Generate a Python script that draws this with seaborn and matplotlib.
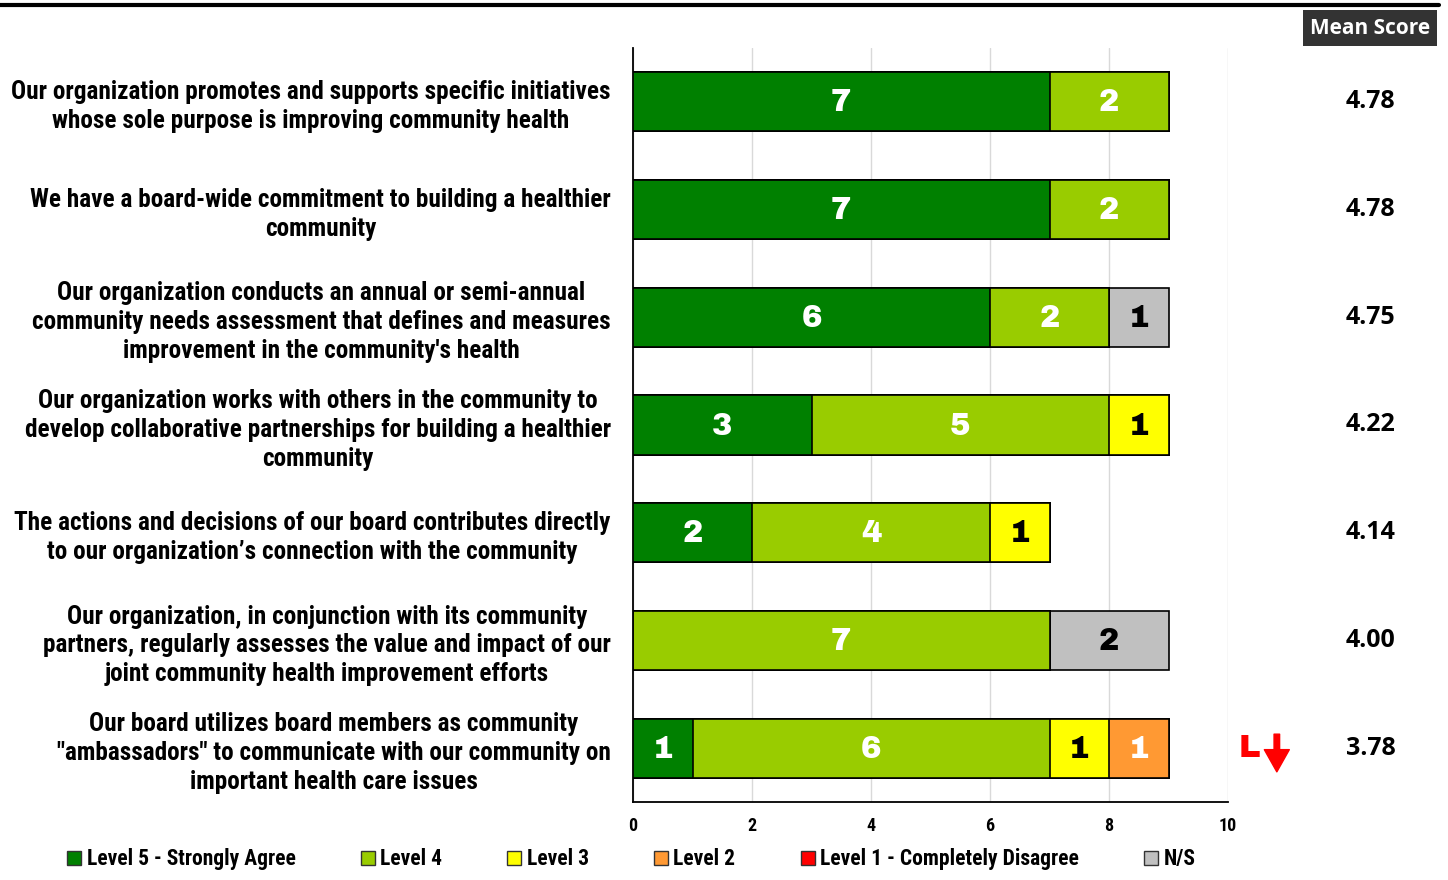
import numpy as np
import pandas as pd
import matplotlib.pyplot as plt
import seaborn as sns
from matplotlib.lines import Line2D
from matplotlib.patches import Patch

questions = [
    "Our organization promotes and supports specific initiatives\nwhose sole purpose is improving community health",
    "We have a board-wide commitment to building a healthier\ncommunity",
    "Our organization conducts an annual or semi-annual\ncommunity needs assessment that defines and measures\nimprovement in the community's health",
    "Our organization works with others in the community to\ndevelop collaborative partnerships for building a healthier\ncommunity",
    "The actions and decisions of our board contributes directly\nto our organization\u2019s connection with the community",
    "Our organization, in conjunction with its community\npartners, regularly assesses the value and impact of our\njoint community health improvement efforts",
    "Our board utilizes board members as community\n\"ambassadors\" to communicate with our community on\nimportant health care issues",
]
levels = ["Level 5 - Strongly Agree", "Level 4", "Level 3", "Level 2",
          "Level 1 - Completely Disagree", "N/S"]
level5 = [7, 7, 6, 3, 2, 0, 1]
level4 = [2, 2, 2, 5, 4, 7, 6]
level3 = [0, 0, 0, 1, 1, 0, 1]
level2 = [0, 0, 0, 0, 0, 0, 1]
level1 = [0, 0, 0, 0, 0, 0, 0]
ns = [0, 0, 1, 0, 0, 2, 0]
mean_scores = ["4.78", "4.78", "4.75", "4.22", "4.14", "4.00", "3.78"]

colors = ["#008000", "#99CC00", "#FFFF00", "#FF9933", "#FF0000", "#C0C0C0"]
text_colors = ["white", "white", "black", "white", "white", "black"]

df = pd.DataFrame({"question": questions})
for name, vals in zip(levels, [level5, level4, level3, level2, level1, ns]):
    df[name] = vals
cum = df[levels].cumsum(axis=1)

sns.set_theme(style="white")
plt.rcParams["text.color"] = "black"
plt.rcParams["xtick.color"] = "black"
plt.rcParams["ytick.color"] = "black"
narrow = ["Roboto Condensed", "DejaVu Sans"]
heavy = ["Archivo Black", "DejaVu Sans"]
ui = ["Open Sans", "DejaVu Sans"]

fig = plt.figure(figsize=(14.48, 8.8), dpi=100)
ax = fig.add_axes([0.4372, 0.0886, 0.4109, 0.8569])

# stacked bars: draw cumulative totals back to front
for k in range(len(levels) - 1, -1, -1):
    sns.barplot(x=cum[levels[k]], y=df["question"], color=colors[k],
                orient="h", width=0.55, edgecolor="black", linewidth=1.2,
                saturation=1, ax=ax, zorder=3)

for i in range(len(df)):
    start = 0
    for k, lev in enumerate(levels):
        v = df.loc[i, lev]
        if v > 0:
            ax.text(start + v / 2, i + 0.01, str(v), ha="center", va="center",
                    fontsize=22, color=text_colors[k], family=heavy, zorder=5)
        start += v
    ax.text(12.4, i, mean_scores[i], ha="center", va="center", fontsize=18,
            fontweight="bold", family=ui, color="black", clip_on=False)

ax.set_xlim(0, 10)
ax.set_ylim(6.5, -0.5)
ax.set_xticks([0, 2, 4, 6, 8, 10])
ax.xaxis.grid(True, color="#D9D9D9", linewidth=1)
ax.set_axisbelow(True)
ax.set_xlabel("")
ax.set_ylabel("")
for s in ["top", "right"]:
    ax.spines[s].set_visible(False)
for s in ["left", "bottom"]:
    ax.spines[s].set_color("black")
    ax.spines[s].set_linewidth(1.3)
ax.tick_params(axis="x", length=0, pad=11)
ax.tick_params(axis="y", length=0, pad=16)
for lbl in ax.get_xticklabels():
    lbl.set_family(narrow)
    lbl.set_fontweight("bold")
    lbl.set_fontsize(13)
for lbl in ax.get_yticklabels():
    lbl.set_family(narrow)
    lbl.set_fontweight("bold")
    lbl.set_fontsize(18.2)
    lbl.set_multialignment("center")
    lbl.set_linespacing(1.25)

# low-score flag
ax.text(10.36, 6.0, "L", ha="center", va="center", fontsize=23,
        color="red", family=heavy, clip_on=False)
ax.annotate("", xy=(10.82, 6.22), xytext=(10.82, 5.87),
            arrowprops=dict(facecolor="red", edgecolor="red", width=4,
                            headwidth=18, headlength=16), annotation_clip=False)

fig.text(1370 / 1448, 1 - 28 / 880, "Mean Score", ha="center", va="center",
         fontsize=15, fontweight="bold", color="white", family=ui,
         bbox=dict(boxstyle="square,pad=0.35", fc="#333333", ec="none"))
fig.add_artist(Line2D([0, 0.994], [0.994, 0.994], color="black", linewidth=3,
                      transform=fig.transFigure))

handles = [Patch(facecolor=c, edgecolor="#333333", linewidth=1) for c in colors]
fig.legend(handles, levels, ncol=6, loc="lower left", mode="expand",
           bbox_to_anchor=(0.033, -0.011, 0.806, 0.045), frameon=False,
           handlelength=0.65, handleheight=0.65, handletextpad=0.25,
           prop=dict(family=narrow, weight="bold", size=15.5))

fig.savefig("out.png", dpi=100)
